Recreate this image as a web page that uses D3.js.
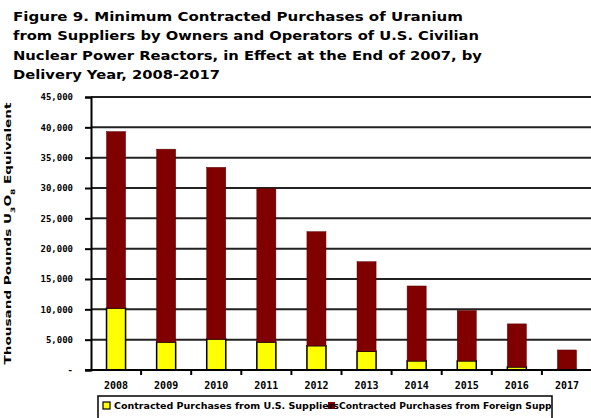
<!DOCTYPE html>
<html>
<head>
<meta charset="utf-8">
<script src="https://cdn.jsdelivr.net/npm/d3@7"></script>
<style>
  body { margin: 0; background: #fff; }
  svg { display: block; font-family: "DejaVu Sans", sans-serif; }
</style>
</head>
<body>
<div id="chart"></div>
<script>
// chart data
var vYears = ["2008", "2009", "2010", "2011", "2012", "2013", "2014", "2015", "2016", "2017"];
var vUsSupply = [10200, 4600, 5100, 4600, 4000, 3100, 1500, 1500, 500, 100];
var vForeignSupply = [29100, 31800, 28300, 25300, 18800, 14750, 12350, 8300, 7100, 3200];
var vYTicks = [0, 5000, 10000, 15000, 20000, 25000, 30000, 35000, 40000, 45000];
var vTitleLines = [
    "Figure 9.  Minimum Contracted Purchases of Uranium",
    "from Suppliers by Owners and Operators of U.S. Civilian",
    "Nuclear Power Reactors, in Effect at the End of 2007, by",
    "Delivery Year, 2008-2017"
];
var vLegendNames = ["Contracted Purchases from U.S. Suppliers", "Contracted Purchases from Foreign Suppliers"];
var vColors = ["#ffff00", "#800000"];

var vWidth = 591, vHeight = 418;
var vPlot = { mLeft: 91, mRight: 592, mTop: 97, mBottom: 370 };

var svg = d3.select("#chart").append("svg")
    .attr("width", vWidth)
    .attr("height", vHeight);

// title
var vTitleWidths = [450, 466, 469, 207];
svg.append("g").selectAll("text")
    .data(vTitleLines)
    .enter()
    .append("text")
    .attr("x", 13)
    .attr("y", function (d, i) { return 21 + i * 19.3; })
    .attr("textLength", function (d, i) { return vTitleWidths[i]; })
    .attr("lengthAdjust", "spacingAndGlyphs")
    .style("font-size", "12px")
    .style("font-weight", "bold")
    .text(function (d) { return d; });

// scales
var vX = d3.scaleBand()
    .domain(vYears)
    .range([vPlot.mLeft, vPlot.mRight])
    .paddingInner(0.62)
    .paddingOuter(0.31);
var vY = d3.scaleLinear()
    .domain([0, 45000])
    .range([vPlot.mBottom, vPlot.mTop]);

// gridlines
svg.append("g").selectAll("line")
    .data(vYTicks.slice(1))
    .enter()
    .append("line")
    .attr("x1", vPlot.mLeft)
    .attr("x2", vWidth)
    .attr("y1", function (d) { return vY(d); })
    .attr("y2", function (d) { return vY(d); })
    .attr("stroke", "#222")
    .attr("stroke-width", 2);

// y axis
var vYAxis = svg.append("g")
    .attr("transform", "translate(" + vPlot.mLeft + ",0)")
    .call(d3.axisLeft(vY).tickValues(vYTicks).tickSize(6).tickPadding(12)
        .tickFormat(function (d) { return d === 0 ? "-" : d3.format(",")(d); }));
vYAxis.select(".domain").attr("stroke", "#000").attr("stroke-width", 2);
vYAxis.selectAll(".tick line").attr("stroke", "#000").attr("stroke-width", 2);
vYAxis.selectAll("text")
    .style("font-size", "9px")
    .style("font-weight", "bold")
    .style("font-family", "DejaVu Sans Mono, monospace")
    .attr("fill", "#000");

// stacked bars
var vStackData = vYears.map(function (aYear, aIdx) {
    return { year: aYear, us: vUsSupply[aIdx], foreign: vForeignSupply[aIdx] };
});
var vSeries = d3.stack().keys(["us", "foreign"])(vStackData);

svg.append("g").selectAll("g")
    .data(vSeries)
    .enter()
    .append("g")
    .attr("fill", function (d, i) { return vColors[i]; })
    .attr("stroke", function (d, i) { return i === 0 ? "#000" : "#5a0000"; })
    .attr("stroke-width", function (d, i) { return i === 0 ? 1.5 : 0.5; })
    .selectAll("rect")
    .data(function (d) { return d; })
    .enter()
    .append("rect")
    .attr("x", function (d) { return vX(d.data.year); })
    .attr("y", function (d) { return vY(d[1]); })
    .attr("width", vX.bandwidth())
    .attr("height", function (d) { return vY(d[0]) - vY(d[1]); });

// x axis
var vXAxis = svg.append("g")
    .attr("transform", "translate(0," + vPlot.mBottom + ")");
vXAxis.append("line")
    .attr("x1", vPlot.mLeft - 6)
    .attr("x2", vWidth)
    .attr("stroke", "#000")
    .attr("stroke-width", 2);
vXAxis.selectAll(".xtick")
    .data(vYears)
    .enter()
    .append("line")
    .attr("class", "xtick")
    .attr("x1", function (d) { return vX(d) - vX.step() * 0.31 + vX.step(); })
    .attr("x2", function (d) { return vX(d) - vX.step() * 0.31 + vX.step(); })
    .attr("y1", 0)
    .attr("y2", 5)
    .attr("stroke", "#000")
    .attr("stroke-width", 2);
vXAxis.selectAll(".xlabel")
    .data(vYears)
    .enter()
    .append("text")
    .attr("class", "xlabel")
    .attr("x", function (d) { return vX(d) + vX.bandwidth() / 2; })
    .attr("y", 19)
    .attr("text-anchor", "middle")
    .style("font-size", "10px")
    .style("font-weight", "bold")
    .style("font-family", "DejaVu Sans Mono, monospace")
    .text(function (d) { return d; });

// y axis title
svg.append("text")
    .attr("transform", "translate(11," + ((vPlot.mTop + vPlot.mBottom) / 2) + ")rotate(-90)")
    .attr("text-anchor", "middle")
    .attr("textLength", 262)
    .attr("lengthAdjust", "spacingAndGlyphs")
    .style("font-size", "9px")
    .style("font-weight", "bold")
    .html("Thousand Pounds U<tspan baseline-shift='sub' font-size='6px'>3</tspan>O<tspan baseline-shift='sub' font-size='6px'>8</tspan> Equivalent");

// legend
var vLegend = svg.append("g");
vLegend.append("defs").append("clipPath").attr("id", "legClip")
    .append("rect").attr("x", 98).attr("y", 396).attr("width", 453).attr("height", 30);
vLegend.append("rect")
    .attr("x", 98).attr("y", 396)
    .attr("width", 454).attr("height", 40)
    .attr("fill", "#fff")
    .attr("stroke", "#000")
    .attr("stroke-width", 1.5);
var vLegItems = vLegend.append("g").attr("clip-path", "url(#legClip)");
var vLegX = [103, 328];
var vLegTextW = [225, 235];
vLegItems.selectAll("rect")
    .data(vLegendNames)
    .enter()
    .append("rect")
    .attr("x", function (d, i) { return vLegX[i]; })
    .attr("y", 402)
    .attr("width", 7).attr("height", 7)
    .attr("fill", function (d, i) { return vColors[i]; })
    .attr("stroke", function (d, i) { return i === 0 ? "#000" : "none"; })
    .attr("stroke-width", 1.2);
vLegItems.selectAll("text")
    .data(vLegendNames)
    .enter()
    .append("text")
    .attr("x", function (d, i) { return vLegX[i] + 11; })
    .attr("y", 409)
    .attr("textLength", function (d, i) { return vLegTextW[i]; })
    .attr("lengthAdjust", "spacingAndGlyphs")
    .style("font-size", "9px")
    .style("font-weight", "bold")
    .text(function (d) { return d; });
</script>
</body>
</html>
